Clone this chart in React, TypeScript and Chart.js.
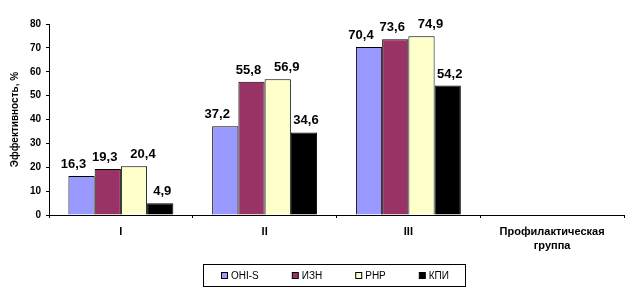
import React, { useEffect, useRef } from "react";
import { Chart, registerables } from "chart.js";

Chart.register(...registerables);

const categories: string[][] = [["I"], ["II"], ["III"], ["Профилактическая", "группа"]];
const seriesNames = ["OHI-S", "ИЗН", "РНР", "КПИ"];
const ohisValues = [16.3, 37.2, 70.4, null];
const iznValues = [19.3, 55.8, 73.6, null];
const rhrValues = [20.4, 56.9, 74.9, null];
const kpiValues = [4.9, 34.6, 54.2, null];
const seriesColors = ["#9999FF", "#993366", "#FFFFCC", "#000000"];
const yTitle = "Эффективность, %";

const FONT = "'Liberation Sans', Arial, sans-serif";

const labelOffsets = [-8, -3, 9, 2];

const dataLabelPlugin = {
  id: "dataLabels",
  afterDatasetsDraw(chart: any) {
    const ctx = chart.ctx;
    ctx.save();
    ctx.font = `bold 13px ${FONT}`;
    ctx.fillStyle = "#000";
    ctx.textAlign = "center";
    ctx.textBaseline = "alphabetic";
    chart.data.datasets.forEach((ds: any, di: number) => {
      const meta = chart.getDatasetMeta(di);
      meta.data.forEach((el: any, i: number) => {
        const v = ds.data[i];
        if (v === null || v === undefined) return;
        const txt = String(v).replace(".", ",");
        ctx.fillText(txt, el.x + labelOffsets[di], el.y - 8);
      });
    });
    ctx.restore();
  },
};

const boxLegendPlugin = {
  id: "boxLegend",
  afterDraw(chart: any) {
    const ctx = chart.ctx;
    ctx.save();
    const boxL = 203.5, boxT = 264.5, boxW = 262, boxH = 22;
    ctx.strokeStyle = "#000";
    ctx.lineWidth = 1;
    ctx.strokeRect(boxL, boxT, boxW, boxH);
    ctx.font = `10px ${FONT}`;
    const sq = 7, gapText = 3, gapItem = 33;
    const widths = chart.data.datasets.map((ds: any) => ctx.measureText(ds.label).width);
    const total = widths.reduce((a: number, w: number) => a + sq + gapText + w, 0) + gapItem * (widths.length - 1);
    let x = Math.round(boxL + boxW / 2 - total / 2);
    const cy = boxT + boxH / 2;
    ctx.textBaseline = "middle";
    ctx.textAlign = "left";
    chart.data.datasets.forEach((ds: any, i: number) => {
      ctx.fillStyle = ds.backgroundColor;
      ctx.fillRect(x + 0.5, Math.round(cy - sq / 2) + 0.5, sq - 1, sq - 1);
      ctx.strokeStyle = "#000";
      ctx.strokeRect(x + 0.5, Math.round(cy - sq / 2) + 0.5, sq - 1, sq - 1);
      ctx.fillStyle = "#000";
      ctx.fillText(ds.label, x + sq + gapText, cy + 0.5);
      x += sq + gapText + widths[i] + gapItem;
    });
    ctx.restore();
  },
};

export default function App() {
  const ref = useRef<HTMLCanvasElement | null>(null);

  useEffect(() => {
    document.body.style.margin = "0";
    if (!ref.current) return;
    const values = [ohisValues, iznValues, rhrValues, kpiValues];
    const chart = new Chart(ref.current, {
      type: "bar",
      data: {
        labels: categories,
        datasets: seriesNames.map((name, i) => ({
          label: name,
          data: values[i],
          backgroundColor: seriesColors[i],
          borderColor: "#000",
          borderWidth: 1,
          categoryPercentage: 0.73,
          barPercentage: 1,
        })),
      },
      options: {
        responsive: false,
        animation: false,
        layout: { padding: { left: 0, top: 24, right: 3, bottom: 40 } },
        plugins: {
          legend: { display: false },
          tooltip: { enabled: false },
        },
        scales: {
          x: {
            grid: { display: true, drawOnChartArea: false, tickLength: 3, color: "#000", offset: true },
            border: { display: true, color: "#000", width: 1 },
            ticks: {
              color: "#000",
              font: { family: FONT, size: 11, weight: "bold", lineHeight: 1.25 },
              padding: 7,
              maxRotation: 0,
              autoSkip: false,
            },
            afterFit: (s: any) => {
              s.height = 40;
            },
          },
          y: {
            min: 0,
            max: 80,
            grid: { display: true, drawOnChartArea: false, tickLength: 3, color: "#000" },
            border: { display: true, color: "#000", width: 1 },
            ticks: {
              stepSize: 10,
              color: "#000",
              font: { family: FONT, size: 10, weight: "bold" },
              padding: 5,
            },
            title: {
              display: true,
              text: yTitle,
              color: "#000",
              font: { family: FONT, size: 10, weight: "bold" },
              padding: { top: 9, bottom: 0 },
            },
            afterFit: (s: any) => {
              s.width = 49;
            },
          },
        },
      } as any,
      plugins: [dataLabelPlugin, boxLegendPlugin],
    });
    return () => chart.destroy();
  }, []);

  return (
    <div style={{ width: 627, height: 295, background: "#fff" }}>
      <canvas ref={ref} width={627} height={295} style={{ display: "block" }} />
    </div>
  );
}
